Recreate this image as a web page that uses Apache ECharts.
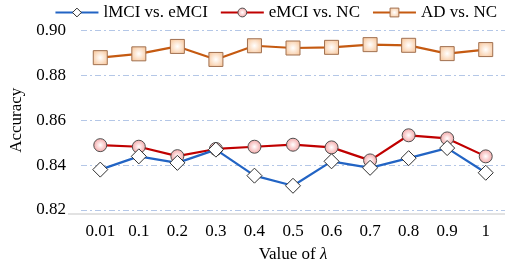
<!DOCTYPE html>
<html><head><meta charset="utf-8">
<script src="https://cdn.jsdelivr.net/npm/echarts@6/dist/echarts.min.js"></script>
<style>html,body{margin:0;padding:0;background:#fff}#c{width:510px;height:268px}</style>
</head><body><div id="c"></div>
<script>
const categories = ['0.01','0.1','0.2','0.3','0.4','0.5','0.6','0.7','0.8','0.9','1'];
const lmciVsEmci = [0.8380,0.8439,0.8410,0.8469,0.8353,0.8308,0.8417,0.8388,0.8431,0.8476,0.8366];
const emciVsNc = [0.8489,0.8482,0.8440,0.8472,0.8482,0.8491,0.8479,0.8421,0.8533,0.8519,0.8439];
const adVsNc = [0.8879,0.8896,0.8929,0.8871,0.8932,0.8922,0.8925,0.8937,0.8934,0.8897,0.8915];
const yTicks = [0.82,0.84,0.86,0.88,0.90];

const font = 'Liberation Serif';
const redFill = {type:'radial',x:0.5,y:0.5,r:0.5,colorStops:[{offset:0,color:'#fff'},{offset:1,color:'#f4a6a6'}]};
const orangeFill = {type:'radial',x:0.5,y:0.5,r:0.6,colorStops:[{offset:0,color:'#fff'},{offset:1,color:'#f8c79c'}]};
const chart = echarts.init(document.getElementById('c'));
chart.setOption({
  animation:false,
  backgroundColor:'#fff',
  textStyle:{fontFamily:font},
  legend:{
    top:-1, right:8, itemGap:12, itemWidth:43, itemHeight:11,
    textStyle:{fontFamily:font,fontSize:17,color:'#000'},
    data:[
      {name:'lMCI vs. eMCI',itemStyle:{color:'#fff',borderColor:'#303030',borderWidth:1}},
      {name:'eMCI vs. NC',itemStyle:{color:redFill,borderColor:'#505050',borderWidth:1}},
      {name:'AD vs. NC',itemStyle:{color:orangeFill,borderColor:'#a07050',borderWidth:1}}
    ]
  },
  grid:{left:68,right:5,top:30.5,bottom:54},
  xAxis:{
    type:'category', data:categories, boundaryGap:true,
    axisLine:{show:false}, axisTick:{show:false},
    axisLabel:{fontFamily:font,fontSize:17,color:'#000',margin:13,interval:0},
    name:'Value of {i|λ}', nameLocation:'middle', nameGap:36,
    nameTextStyle:{fontFamily:font,fontSize:17,color:'#000',
      rich:{i:{fontFamily:font,fontStyle:'italic',fontSize:17,color:'#000'}}}
  },
  yAxis:{
    type:'value', min:yTicks[0], max:yTicks[yTicks.length-1], interval:0.02,
    axisLine:{show:false}, axisTick:{show:false},
    axisLabel:{fontFamily:font,fontSize:17,color:'#000',margin:15,formatter:v=>v.toFixed(2)},
    splitLine:{show:true,lineStyle:{color:'#b4c7e7',width:1,type:[6,3,2,3]}},
    name:'Accuracy', nameLocation:'middle', nameGap:56, nameRotate:90,
    nameTextStyle:{fontFamily:font,fontSize:17,color:'#000'}
  },
  series:[
    {name:'eMCI vs. NC',type:'line',data:emciVsNc,z:3,symbol:'circle',symbolSize:13,
     lineStyle:{color:'#c00000',width:2.2},
     itemStyle:{color:redFill,borderColor:'#505050',borderWidth:1}},
    {name:'lMCI vs. eMCI',type:'line',data:lmciVsEmci,z:4,symbol:'diamond',symbolSize:[15,15],
     lineStyle:{color:'#2264c4',width:2.2},
     itemStyle:{color:'#fff',borderColor:'#303030',borderWidth:1}},
    {name:'AD vs. NC',type:'line',data:adVsNc,z:3,symbol:'rect',symbolSize:14,
     lineStyle:{color:'#c55a11',width:2.2},
     itemStyle:{color:orangeFill,borderColor:'#a07050',borderWidth:1}}
  ],
  graphic:[{type:'line',shape:{x1:68,y1:214,x2:505,y2:214},style:{stroke:'#d9d9d9',lineWidth:1.5},z:1}]
});
</script></body></html>
